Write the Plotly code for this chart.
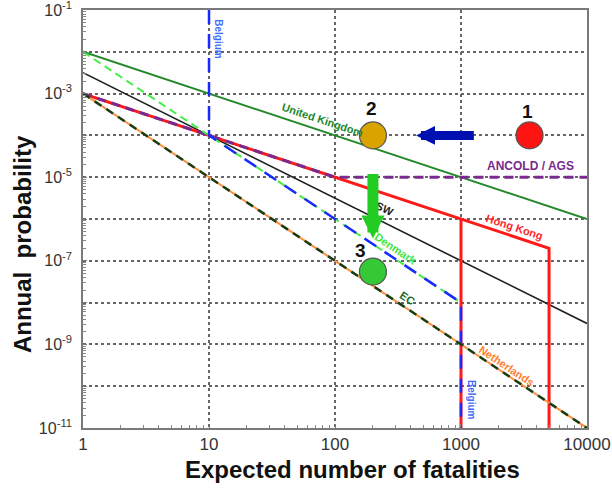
import numpy as np
import plotly.graph_objects as go

# ---- F-N societal risk criteria (N = expected fatalities, F = annual probability) ----
uk_n = [1, 10000]
uk_p = [1e-2, 1e-6]

nsw_n = [1, 10000]
nsw_p = [10 ** -2.5, 10 ** -8.5]

hk_n = [1, 5000, 5000, None, 1000, 1000]
hk_p = [1e-3, 2e-7, 1e-11, None, 1e-6, 1e-11]

ancold_n = [1, 100, 10000]
ancold_p = [1e-3, 1e-5, 1e-5]

denmark_n = [1, 1000]
denmark_p = [1e-2, 1e-8]

belgium_n = [10, 10, 1000, 1000]
belgium_p = [1e-1, 1e-4, 1e-8, 1e-11]

netherlands_n = [1, 10000]
netherlands_p = [1e-3, 1e-11]

ec_n = [1, 10000]
ec_p = [1e-3, 1e-11]

# ---- case points and the moves between them ----
case_labels = ["1", "2", "3"]
case_n = [3500, 200, 200]
case_p = [1e-4, 1e-4, 5.5e-8]
case_colors = ["#ff1414", "#d9a300", "#36c936"]

arrow_tail_n = [1300, 200]
arrow_tail_p = [1e-4, 1.3e-5]
arrow_tip_n = [440, 200]
arrow_tip_p = [1e-4, 3.4e-7]
arrow_colors = ["#0010b0", "#22cc22"]

# ---- axis ticks ----
x_ticks = [1, 10, 100, 1000, 10000]
x_ticktext = ["1", "10", "100", "1000", "10000"]
y_exponents = list(range(-1, -12, -1))
y_ticks = [10.0 ** e for e in y_exponents]
y_ticktext = [f"10<sup>{e}</sup>" if e % 2 else "" for e in y_exponents]

fig = go.Figure()


def add_line(n, p, color, width, dash="solid"):
    fig.add_trace(go.Scatter(x=n, y=p, mode="lines",
                             line=dict(color=color, width=width, dash=dash),
                             hoverinfo="skip", showlegend=False))


add_line(uk_n, uk_p, "#23882a", 2)
add_line(nsw_n, nsw_p, "#202020", 1.6)
add_line(hk_n, hk_p, "#ff1a1a", 3)
add_line(ancold_n, ancold_p, "#7a2a8e", 3, "9px,6px")
add_line(denmark_n, denmark_p, "#44ee44", 2, "8px,5px")
add_line(belgium_n, belgium_p, "#1a2aff", 2.5, "14px,10px")
add_line(netherlands_n, netherlands_p, "#ff8c3a", 2)
add_line(ec_n, ec_p, "#163d16", 2.5, "8px,6px")

# case circles
fig.add_trace(go.Scatter(x=case_n, y=case_p, mode="markers",
                         marker=dict(size=27, color=case_colors,
                                     line=dict(color="#555555", width=1.2)),
                         hoverinfo="skip", showlegend=False))

ann = []

# criterion names written along their lines
ang1 = float(np.degrees(np.arctan(1.0 * 41.7 / 125.5)))
ang15 = float(np.degrees(np.arctan(1.5 * 41.7 / 125.5)))
ang2 = float(np.degrees(np.arctan(2.0 * 41.7 / 125.5)))
line_labels = [
    ("Belgium", 1.0, -1.70, 90, "#3d6bff", 10, 10),
    ("Belgium", 3.0, -10.33, 90, "#3d6bff", 10, 10),
    ("United Kingdom", 1.904, -3.64, ang1, "#23882a", 11, 0),
    ("ANCOLD / AGS", 3.554, -4.74, 0, "#7a2a8e", 12, 0),
    ("Hong Kong", 3.426, -6.18, ang1, "#ff2a2a", 11, 0),
    ("NSW", 2.367, -5.72, ang15, "#202020", 11, 0),
    ("Denmark", 2.486, -6.71, ang2, "#3ee83e", 11, 0),
    ("EC", 2.574, -7.88, ang2, "#1f6b1f", 11, 0),
    ("Netherlands", 3.363, -9.51, ang2, "#ff8030", 11, 0),
]
for txt, lx, ly, ang, col, sz, dx in line_labels:
    ann.append(dict(x=lx, y=ly, xref="x", yref="y", text=f"<b>{txt}</b>",
                    showarrow=False, textangle=ang, xshift=dx,
                    font=dict(family="Liberation Sans, Arial", size=sz, color=col)))

# arrows (on top of the line names)
arrow_widths = [9, 11]
for tn, tp, hn, hp, c, w in zip(arrow_tail_n, arrow_tail_p, arrow_tip_n,
                                 arrow_tip_p, arrow_colors, arrow_widths):
    ann.append(dict(x=np.log10(hn), y=np.log10(hp), ax=np.log10(tn), ay=np.log10(tp),
                    xref="x", yref="y", axref="x", ayref="y", text="",
                    showarrow=True, arrowhead=2, arrowsize=0.42, arrowwidth=w,
                    arrowcolor=c, standoff=0, startstandoff=0))

# number labels above the circles
label_shift = [(-2, 24), (-1, 27), (-12, 21)]
for lab, n, p, (dx, dy) in zip(case_labels, case_n, case_p, label_shift):
    ann.append(dict(x=np.log10(n), y=np.log10(p), xref="x", yref="y", text=f"<b>{lab}</b>",
                    showarrow=False, xshift=dx, yshift=dy,
                    font=dict(family="Liberation Sans, Arial", size=19, color="#111111")))

# axis titles (paper coordinates are relative to the plotting area)
title_font = dict(family="Liberation Sans, Arial", size=24, color="#111111")
ann.append(dict(x=-0.121, y=0.44, xref="paper", yref="paper", xanchor="center", yanchor="middle",
                text="<b>Annual  probability</b>", textangle=-90, showarrow=False,
                font=title_font))
ann.append(dict(x=0.534, y=-0.10, xref="paper", yref="paper", xanchor="center", yanchor="middle",
                text="<b>Expected number of fatalities</b>", showarrow=False,
                font=title_font))

fig.update_layout(annotations=ann)

axis_common = dict(
    type="log", showline=True, linecolor="#7a7a7a", linewidth=1.6, mirror=True,
    showgrid=True, gridcolor="#666666", gridwidth=1.5, griddash="dot",
    ticks="inside", ticklen=4, tickcolor="#777777", zeroline=False, automargin=False,
    ticklabeloverflow="allow",
    tickfont=dict(family="Liberation Sans, Arial", color="#333333"),
    minor=dict(ticks="inside", ticklen=3, tickcolor="#888888", dtick="D1", showgrid=False),
)

# ranges padded by a hair so the end decades keep their labels
fig.update_xaxes(axis_common, range=[-0.0001, 4.0001], tickmode="array", tickvals=x_ticks,
                 ticktext=x_ticktext, tickfont_size=17)
fig.update_yaxes(axis_common, range=[-11.0001, -0.9999], tickmode="array", tickvals=y_ticks,
                 ticktext=y_ticktext, tickfont_size=16, ticklabelstandoff=6)

fig.update_layout(
    width=612, height=490,
    margin=dict(l=83, r=25, t=10, b=62, autoexpand=False),
    paper_bgcolor="white", plot_bgcolor="white",
    showlegend=False,
)

fig.write_html("out.html")
